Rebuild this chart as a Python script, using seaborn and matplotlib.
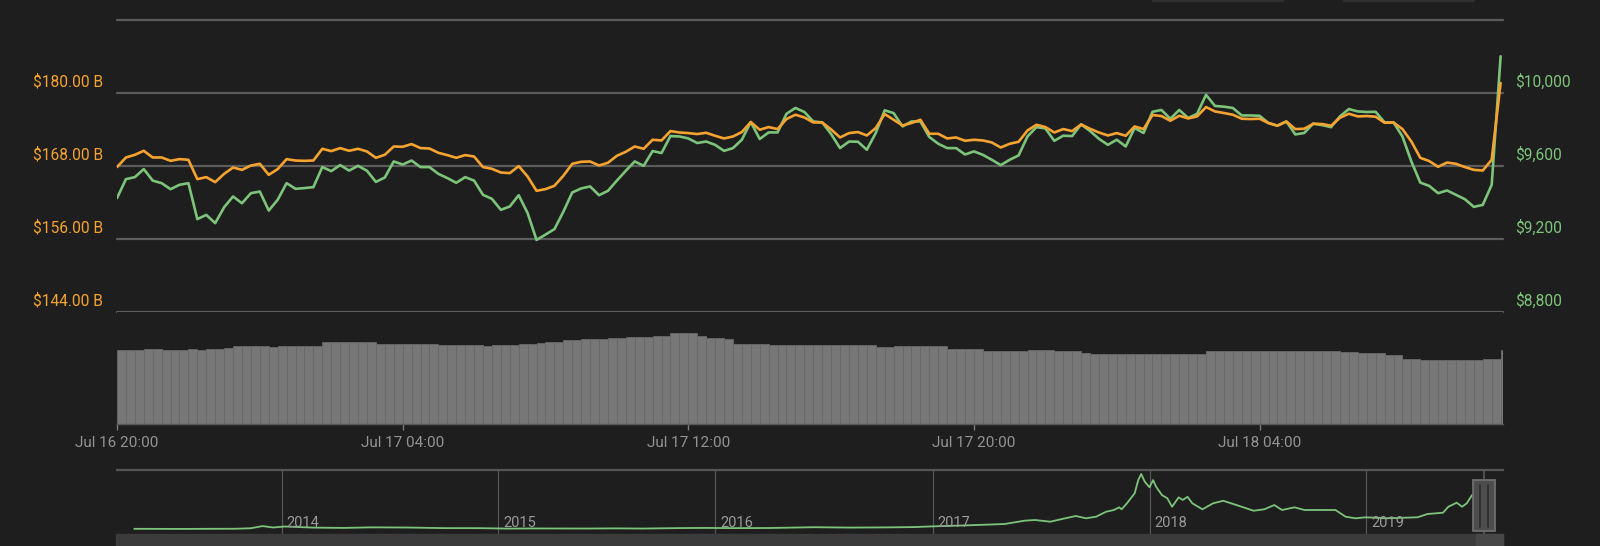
import matplotlib
matplotlib.use("Agg")
import matplotlib.pyplot as plt
import matplotlib.dates as mdates
import matplotlib.transforms as mtransforms
from matplotlib.patches import Rectangle
import pandas as pd
import seaborn as sns

# --- data --------------------------------------------------------------------
start_time = "2019-07-16 20:00"
step = "15min"

market_cap_b = [
    167.82, 169.40, 169.84, 170.50, 169.40, 169.40, 168.85, 169.13, 169.02, 165.84,
    166.17, 165.35, 166.71, 167.75, 167.37, 168.08, 168.36, 166.55, 167.49, 169.13,
    168.90, 168.85, 168.90, 170.83, 170.45, 170.94, 170.50, 170.83, 170.39, 169.35,
    169.84, 171.21, 171.16, 171.60, 170.94, 170.88, 170.17, 169.79, 169.35, 169.79,
    169.56, 167.82, 167.54, 166.93, 166.83, 167.98, 166.27, 163.92, 164.20, 164.74,
    166.39, 168.36, 168.69, 168.74, 168.08, 168.53, 169.68, 170.34, 171.21, 170.83,
    172.31, 172.20, 173.74, 173.51, 173.41, 173.25, 173.46, 172.97, 172.53, 172.85,
    173.58, 175.22, 173.96, 174.40, 174.07, 175.72, 176.43, 175.98, 175.16, 175.16,
    174.01, 172.69, 173.41, 173.58, 173.02, 174.24, 176.54, 175.60, 174.66, 175.06,
    175.60, 173.30, 173.30, 172.53, 172.69, 172.15, 172.31, 172.20, 171.87, 171.04,
    171.65, 171.98, 173.84, 174.78, 174.40, 173.51, 174.07, 173.74, 174.83, 174.12,
    173.51, 173.02, 173.41, 172.97, 174.50, 174.07, 176.38, 176.21, 175.44, 176.26,
    175.82, 176.15, 177.69, 176.97, 176.71, 176.43, 175.77, 175.72, 175.77, 175.06,
    174.62, 175.32, 174.07, 174.12, 174.94, 174.90, 174.62, 175.93, 176.59, 176.15,
    176.21, 176.10, 175.11, 175.16, 174.07, 172.03, 169.35, 168.81, 167.87, 168.57,
    168.36, 167.82, 167.37, 167.26, 169.02, 181.64,
]

price_usd = [
    9424, 9528, 9539, 9583, 9520, 9506, 9473, 9497, 9506, 9309,
    9332, 9287, 9374, 9433, 9396, 9451, 9460, 9356, 9415, 9506,
    9475, 9479, 9484, 9594, 9572, 9605, 9575, 9601, 9574, 9513,
    9537, 9625, 9608, 9630, 9594, 9594, 9557, 9534, 9508, 9539,
    9520, 9442, 9420, 9360, 9378, 9440, 9342, 9195, 9224, 9254,
    9349, 9455, 9477, 9488, 9440, 9464, 9520, 9574, 9625, 9601,
    9682, 9671, 9764, 9762, 9751, 9726, 9734, 9716, 9683, 9698,
    9744, 9841, 9748, 9784, 9784, 9886, 9918, 9896, 9844, 9839,
    9775, 9698, 9734, 9733, 9689, 9781, 9905, 9890, 9817, 9844,
    9844, 9759, 9722, 9698, 9698, 9663, 9680, 9661, 9634, 9605,
    9634, 9658, 9762, 9813, 9806, 9738, 9766, 9764, 9828, 9792,
    9749, 9716, 9744, 9707, 9808, 9781, 9897, 9907, 9859, 9907,
    9863, 9886, 9990, 9929, 9925, 9918, 9877, 9877, 9875, 9835,
    9821, 9844, 9773, 9781, 9832, 9824, 9813, 9872, 9912, 9899,
    9896, 9897, 9839, 9839, 9762, 9625, 9509, 9491, 9451, 9466,
    9442, 9418, 9376, 9387, 9497, 10201,
]

volume_b = [
    19.7, 19.7, 19.7, 20.1, 20.1, 19.7, 19.7, 19.7, 20.1, 19.7,
    20.1, 20.1, 20.4, 20.8, 20.8, 20.8, 20.8, 20.5, 20.8, 20.8,
    20.8, 20.8, 21.0, 21.9, 21.9, 21.9, 21.9, 21.9, 21.9, 21.5,
    21.5, 21.4, 21.4, 21.4, 21.4, 21.4, 21.1, 21.1, 21.1, 21.1,
    21.1, 20.8, 21.2, 21.2, 21.2, 21.4, 21.4, 21.7, 22.0, 22.0,
    22.6, 22.6, 22.8, 22.8, 22.8, 23.0, 23.0, 23.2, 23.2, 23.2,
    23.7, 23.7, 24.4, 24.4, 24.4, 23.7, 23.0, 23.0, 22.8, 21.4,
    21.4, 21.4, 21.4, 21.1, 21.1, 21.1, 21.1, 21.1, 21.1, 21.1,
    21.1, 21.1, 21.1, 21.1, 21.1, 20.6, 20.6, 20.8, 20.8, 20.8,
    20.8, 20.8, 20.8, 20.1, 20.1, 20.1, 20.1, 19.6, 19.6, 19.6,
    19.6, 19.6, 19.9, 19.9, 19.9, 19.5, 19.5, 19.5, 19.0, 18.8,
    18.8, 18.8, 18.8, 18.8, 18.8, 18.8, 18.8, 18.8, 18.8, 18.8,
    18.8, 18.8, 19.5, 19.5, 19.5, 19.5, 19.5, 19.5, 19.5, 19.5,
    19.5, 19.5, 19.5, 19.5, 19.5, 19.5, 19.5, 19.3, 19.3, 19.0,
    19.0, 19.0, 18.4, 18.4, 17.5, 17.5, 17.2, 17.2, 17.2, 17.2,
    17.2, 17.2, 17.2, 17.4, 17.4, 19.7,
]

tick_times = ["2019-07-16 20:00", "2019-07-17 04:00", "2019-07-17 12:00",
              "2019-07-17 20:00", "2019-07-18 04:00"]
tick_labels = ["Jul 16 20:00", "Jul 17 04:00", "Jul 17 12:00",
               "Jul 17 20:00", "Jul 18 04:00"]

cap_ticks = [144, 156, 168, 180]
price_ticks = [8800, 9200, 9600, 10000]
grid_prices = [8800, 9200, 9600, 10000, 10400]

# long-range navigator (price history)
nav_dates = [
    "2013-04-28", "2013-06-01", "2013-07-15", "2013-09-01", "2013-10-15", "2013-11-10",
    "2013-11-30", "2013-12-18", "2014-01-06", "2014-02-25", "2014-04-15", "2014-06-01",
    "2014-08-01", "2014-10-01", "2014-12-01", "2015-01-15", "2015-03-01", "2015-06-01",
    "2015-07-15", "2015-09-01", "2015-11-05", "2015-12-15", "2016-02-01", "2016-04-01",
    "2016-06-15", "2016-08-15", "2016-10-15", "2016-12-01", "2017-01-01", "2017-03-02",
    "2017-05-02", "2017-06-05", "2017-06-22", "2017-07-18", "2017-08-12", "2017-08-30",
    "2017-09-16", "2017-10-03", "2017-10-20", "2017-11-02", "2017-11-11", "2017-11-15",
    "2017-11-24", "2017-12-07", "2017-12-13", "2017-12-18", "2017-12-24", "2018-01-01",
    "2018-01-07", "2018-01-12", "2018-01-22", "2018-01-31", "2018-02-08", "2018-02-19",
    "2018-02-26", "2018-03-06", "2018-03-14", "2018-03-31", "2018-04-18", "2018-05-05",
    "2018-05-22", "2018-06-08", "2018-06-25", "2018-07-13", "2018-07-30", "2018-08-12",
    "2018-09-02", "2018-09-19", "2018-11-10", "2018-11-27", "2018-12-14", "2018-12-31",
    "2019-02-04", "2019-03-28", "2019-04-14", "2019-05-10", "2019-05-19", "2019-06-02",
    "2019-06-11", "2019-06-19", "2019-06-28", "2019-07-10", "2019-07-18",
]
nav_price = [
    135, 120, 95, 135, 160, 330,
    1100, 600, 950, 550, 450, 650,
    590, 380, 370, 210, 260, 230,
    290, 230, 400, 450, 380, 420,
    700, 570, 640, 750, 1000, 1370,
    1830, 3000, 3240, 2640, 3840, 4650,
    3840, 4400, 6160, 6760, 7700, 7000,
    9120, 12640, 17300, 19430, 16720, 14750,
    17300, 14960, 12000, 10880, 7900, 11200,
    10300, 11400, 9120, 7000, 9120, 10000,
    8870, 7700, 6500, 7000, 8500, 6760,
    7700, 6760, 6760, 4400, 3840, 4190,
    3840, 4190, 5350, 5800, 7900, 9330,
    7900, 9100, 12040, 12300, 9700,
]
nav_years = [2014, 2015, 2016, 2017, 2018, 2019]

# --- style -------------------------------------------------------------------
BG = "#1e1e1e"
ORANGE = "#f7a330"
GREEN = "#7dc47b"
GRID = "#5c5c5c"
TEXT_GRAY = "#939393"

sns.set_theme(style="dark")
plt.rcParams["font.family"] = ["Roboto", "DejaVu Sans"]
plt.rcParams["axes.facecolor"] = BG
plt.rcParams["figure.facecolor"] = BG

W, H = 1600, 546
fig = plt.figure(figsize=(W / 100, H / 100), dpi=100)


def px_axes(left, top, right, bottom):
    return fig.add_axes([left / W, 1 - bottom / H, (right - left) / W, (bottom - top) / H])


def clean(ax):
    for s in ax.spines.values():
        s.set_visible(False)
    ax.set_xlabel("")
    ax.set_ylabel("")
    ax.grid(False)


times = pd.date_range(start_time, periods=len(price_usd), freq=step)
x_min = pd.Timestamp("2019-07-16 20:00")
x_max = pd.Timestamp("2019-07-18 10:49")

# --- main price / market-cap panel -------------------------------------------
ax = px_axes(117, 20, 1503, 312)
sns.lineplot(x=times, y=price_usd, ax=ax, color=GREEN, linewidth=1.9)
ax.set_ylim(8800, 10400)
ax.set_xlim(x_min, x_max)
clean(ax)
ax.set_xticks([])
ax.set_yticks([])
for v in grid_prices:
    ax.axhline(v, color=GRID, linewidth=1.6, clip_on=False, zorder=0)

ax2 = ax.twinx()
sns.lineplot(x=times, y=market_cap_b, ax=ax2, color=ORANGE, linewidth=1.9)
ax2.set_ylim(144, 192)
ax2.set_xlim(x_min, x_max)
clean(ax2)
ax2.set_yticks([])
ax2.set_xticks([])

left_tr = mtransforms.blended_transform_factory(ax2.transAxes, ax2.transData) + \
    mtransforms.ScaledTranslation(-14 / 100, 6.5 / 100, fig.dpi_scale_trans)
for v in cap_ticks:
    ax2.text(0, v, f"${v:.2f} B", transform=left_tr, ha="right", va="baseline",
             color=ORANGE, fontsize=11.2)

right_tr = mtransforms.blended_transform_factory(ax.transAxes, ax.transData) + \
    mtransforms.ScaledTranslation(12.5 / 100, 6.5 / 100, fig.dpi_scale_trans)
for v in price_ticks:
    ax.text(1, v, f"${v:,}", transform=right_tr, ha="left", va="baseline",
            color=GREEN, fontsize=11.2)

# --- volume panel --------------------------------------------------------------
axv = px_axes(117, 312, 1503, 424)
axv.bar(times, volume_b, width=pd.Timedelta(minutes=15) / pd.Timedelta(days=1),
        align="edge", color="#777777", edgecolor="#686868", linewidth=0.6)
axv.set_ylim(0, 30)
axv.set_xlim(x_min, x_max)
clean(axv)
axv.spines["bottom"].set_visible(True)
axv.spines["bottom"].set_color("#5a5a5a")
axv.spines["bottom"].set_linewidth(1)
axv.set_yticks([])
axv.set_xticks(pd.to_datetime(tick_times))
axv.set_xticklabels(tick_labels)
axv.tick_params(axis="x", direction="out", length=4.5, width=1, color="#7a7a7a",
                pad=4, labelsize=11, labelcolor=TEXT_GRAY, bottom=True)

# --- navigator -----------------------------------------------------------------
axn = px_axes(117, 470, 1503, 534)
nav_df = pd.DataFrame({"date": pd.to_datetime(nav_dates), "price": nav_price})
sns.lineplot(data=nav_df, x="date", y="price", ax=axn, color=GREEN, linewidth=1.3)
axn.set_xlim(pd.Timestamp("2013-03-30"), pd.Timestamp("2019-08-19"))
axn.set_ylim(-1690, 20840)
clean(axn)
axn.spines["top"].set_visible(True)
axn.spines["top"].set_color("#555555")
axn.spines["top"].set_linewidth(1.6)
axn.set_xticks([])
axn.set_yticks([])

nav_tr = mtransforms.blended_transform_factory(axn.transData, axn.transAxes)
year_tr = nav_tr + mtransforms.ScaledTranslation(5 / 100, 0, fig.dpi_scale_trans)
for yr in nav_years:
    d = pd.Timestamp(f"{yr}-01-01")
    axn.axvline(d, color="#555555", linewidth=0.9, zorder=0)
    axn.text(d, 0.17, str(yr), transform=year_tr, ha="left", va="center",
             color="#9a9a9a", fontsize=10.5)

# scrollbar + handle
fig.patches.append(Rectangle((116 / W, 0), (1503 - 116) / W, 12 / H,
                             transform=fig.transFigure, color="#3b3b3b", zorder=0))
fig.patches.append(Rectangle((1476 / W, 0), 27 / W, 12 / H,
                             transform=fig.transFigure, color="#474747", zorder=0))

win = pd.Timestamp("2019-07-18")
half = pd.Timedelta(days=18.5)
axn.plot([win, win], [1.0, -0.19], transform=nav_tr, color="#585858",
         linewidth=1.2, clip_on=False, zorder=4)
axn.add_patch(Rectangle((mdates.date2num(win - half), 0.047),
                        mdates.date2num(win + half) - mdates.date2num(win - half), 0.797,
                        transform=nav_tr, facecolor="#4d4d4d", edgecolor="#6e6e6e",
                        linewidth=1.3, clip_on=False, zorder=5))
for off in (-7, 7):
    d = win + pd.Timedelta(days=off)
    axn.plot([d, d], [0.11, 0.77], transform=nav_tr, color="#2e2e2e",
             linewidth=1.3, clip_on=False, zorder=6)

# faint buttons peeking at the top edge
for bx0, bx1 in [(1152, 1283), (1343, 1474)]:
    fig.patches.append(Rectangle((bx0 / W, 1 - 1.2 / H), (bx1 - bx0) / W, 1.2 / H,
                                 transform=fig.transFigure, color="#2f2f2f"))

fig.savefig("out.png", dpi=100, facecolor=BG)
